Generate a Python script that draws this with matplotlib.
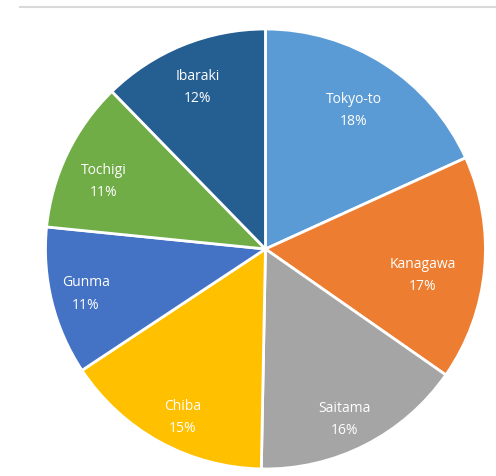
import matplotlib
matplotlib.use('Agg')
import numpy as np
import matplotlib.pyplot as plt
from matplotlib.lines import Line2D

# data
prefectures = ['Tokyo-to', 'Kanagawa', 'Saitama', 'Chiba', 'Gunma', 'Tochigi', 'Ibaraki']
shares = [18.2, 16.5, 15.6, 15.4, 10.9, 11.1, 12.3]   # wedge sizes as drawn
pct_labels = [18, 17, 16, 15, 11, 11, 12]              # percentages printed on the chart
colors = ['#5B9BD5', '#ED7D31', '#A5A5A5', '#FFC000', '#4472C4', '#70AD47', '#255E91']
# label placement per slice: distance (fraction of radius) and angle nudge (deg)
label_dist = [0.75, 0.725, 0.85, 0.85, 0.84, 0.80, 0.80]
label_nudge = [0.5, -4, -2, 2.4, 0, 2.8, 0.5]

plt.rcParams['font.family'] = ['Open Sans', 'DejaVu Sans']

fig = plt.figure(figsize=(4.96, 4.77), dpi=100)
ax = fig.add_axes([0.0917, 0.0147, 0.887, 0.9224])

wedges, _ = ax.pie(shares, colors=colors, startangle=90, counterclock=False,
                   wedgeprops=dict(edgecolor='white', linewidth=2))
ax.set_aspect('auto')
ax.set_xlim(-1, 1)
ax.set_ylim(-1, 1)

for w, name, p, d, n in zip(wedges, prefectures, pct_labels, label_dist, label_nudge):
    ang = np.deg2rad((w.theta1 + w.theta2) / 2 + n)
    ax.text(d * np.cos(ang), d * np.sin(ang), '{}\n{}%'.format(name, p),
            color='white', fontsize=10, ha='center', va='center', linespacing=1.7)

# grey line at the top of the frame
fig.add_artist(Line2D([20 / 496, 1.0], [1 - 8 / 477, 1 - 8 / 477],
                      transform=fig.transFigure, color='#D9D9D9', linewidth=1.5))

fig.savefig('out.png', dpi=100)
